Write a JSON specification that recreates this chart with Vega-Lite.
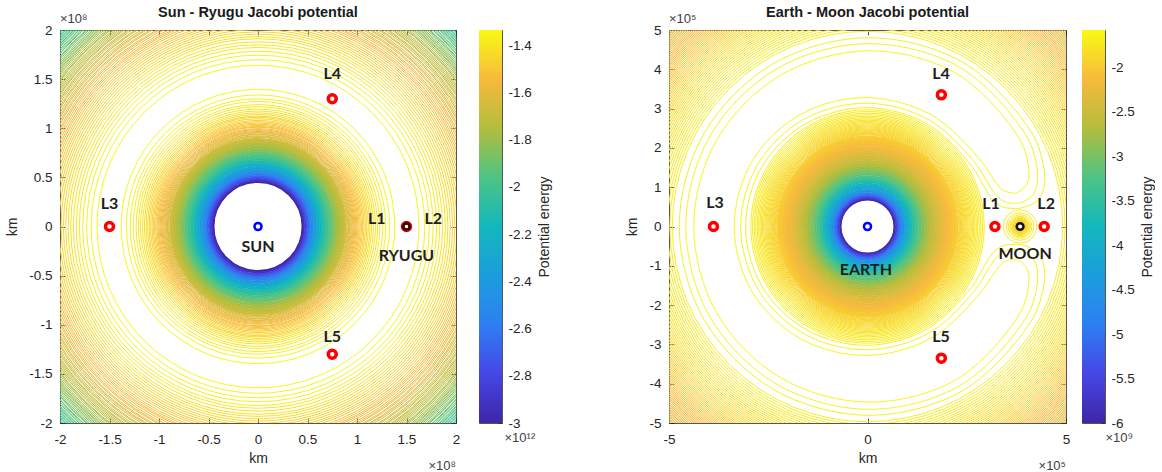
{
"$schema": "https://vega.github.io/schema/vega-lite/v6.json",
"padding": {"left": 5, "top": 4, "right": 0, "bottom": 0},
"background": "white",
"config": {
  "view": {"stroke": "#555555", "strokeWidth": 1},
  "axis": {"labelFont": "Liberation Sans", "labelFontSize": 13.5, "labelColor": "#262626", "titleFont": "Liberation Sans", "titleFontSize": 14, "titleColor": "#262626", "titleFontWeight": "normal", "grid": false, "domain": false, "tickColor": "#262626", "tickSize": -5, "tickWidth": 0.8, "labelFlush": false, "labelOverlap": false}
},
"datasets": {
  "sunSolid": [{"d":0.90,"u":-3.0},{"d":0.93,"u":-2.916},{"d":0.96,"u":-2.829},{"d":0.99,"u":-2.748},{"d":1.02,"u":-2.671},{"d":1.05,"u":-2.599},{"d":1.08,"u":-2.532},{"d":1.11,"u":-2.468},{"d":1.14,"u":-2.408},{"d":1.17,"u":-2.352},{"d":1.20,"u":-2.298},{"d":1.23,"u":-2.247},{"d":1.26,"u":-2.199},{"d":1.29,"u":-2.154},{"d":1.32,"u":-2.111},{"d":1.35,"u":-2.069},{"d":1.38,"u":-2.031},{"d":1.41,"u":-1.993},{"d":1.44,"u":-1.958},{"d":1.47,"u":-1.925},{"d":1.50,"u":-1.893},{"d":1.53,"u":-1.862},{"d":1.56,"u":-1.833},{"d":1.59,"u":-1.806},{"d":1.62,"u":-1.779},{"d":1.65,"u":-1.754},{"d":1.68,"u":-1.730},{"d":1.71,"u":-1.707},{"d":1.74,"u":-1.685},{"d":1.77,"u":-1.665}],
  "sunLines": [{"d":2.763,"u":-1.345},{"d":2.658,"u":-1.355},{"d":2.58,"u":-1.365},{"d":2.519,"u":-1.375},{"d":2.463,"u":-1.385},{"d":2.415,"u":-1.395},{"d":2.373,"u":-1.405},{"d":2.333,"u":-1.415},{"d":2.295,"u":-1.425},{"d":2.262,"u":-1.435},{"d":2.229,"u":-1.445},{"d":2.199,"u":-1.455},{"d":2.169,"u":-1.465},{"d":2.142,"u":-1.475},{"d":2.115,"u":-1.485},{"d":2.09,"u":-1.495},{"d":2.066,"u":-1.505},{"d":2.042,"u":-1.515},{"d":2.02,"u":-1.525},{"d":1.999,"u":-1.535},{"d":1.977,"u":-1.545},{"d":1.958,"u":-1.555},{"d":1.938,"u":-1.565},{"d":1.919,"u":-1.575},{"d":1.901,"u":-1.585},{"d":1.883,"u":-1.595},{"d":1.865,"u":-1.605},{"d":1.849,"u":-1.615},{"d":1.832,"u":-1.625},{"d":1.816,"u":-1.635},{"d":1.8,"u":-1.645},
    {"d":3.251,"u":-1.345},{"d":3.370,"u":-1.355},{"d":3.462,"u":-1.365},{"d":3.540,"u":-1.375},{"d":3.609,"u":-1.385},{"d":3.672,"u":-1.395},{"d":3.730,"u":-1.405},{"d":3.785,"u":-1.415},{"d":3.837,"u":-1.425},{"d":3.886,"u":-1.435},{"d":3.933,"u":-1.445},{"d":3.978,"u":-1.455},{"d":4.022,"u":-1.465},{"d":4.064,"u":-1.475},{"d":4.106,"u":-1.485},{"d":4.145,"u":-1.495},{"d":4.184,"u":-1.505},{"d":4.221,"u":-1.515},{"d":4.257,"u":-1.525},{"d":4.293,"u":-1.535},{"d":4.329,"u":-1.545},{"d":4.364,"u":-1.555},{"d":4.397,"u":-1.565},{"d":4.431,"u":-1.575},{"d":4.464,"u":-1.585},{"d":4.497,"u":-1.595},{"d":4.528,"u":-1.605},{"d":4.559,"u":-1.615},{"d":4.589,"u":-1.625},{"d":4.620,"u":-1.635},{"d":4.651,"u":-1.645},{"d":4.680,"u":-1.655},{"d":4.709,"u":-1.665},{"d":4.737,"u":-1.675},{"d":4.766,"u":-1.685},{"d":4.795,"u":-1.695},{"d":4.822,"u":-1.705},{"d":4.849,"u":-1.715},{"d":4.876,"u":-1.725},{"d":4.903,"u":-1.735},{"d":4.930,"u":-1.745},{"d":4.957,"u":-1.755},{"d":4.982,"u":-1.765},{"d":5.008,"u":-1.775},{"d":5.033,"u":-1.785},{"d":5.059,"u":-1.795},{"d":5.085,"u":-1.805},{"d":5.110,"u":-1.815},{"d":5.134,"u":-1.825},{"d":5.158,"u":-1.835},{"d":5.182,"u":-1.845},{"d":5.207,"u":-1.855},{"d":5.231,"u":-1.865},{"d":5.255,"u":-1.875},{"d":5.278,"u":-1.885},{"d":5.301,"u":-1.895},{"d":5.324,"u":-1.905},{"d":5.347,"u":-1.915},{"d":5.370,"u":-1.925},{"d":5.393,"u":-1.935},{"d":5.416,"u":-1.945},{"d":5.438,"u":-1.955},{"d":5.460,"u":-1.965},{"d":5.482,"u":-1.975},{"d":5.504,"u":-1.985},{"d":5.526,"u":-1.995},{"d":5.548,"u":-2.005},{"d":5.570,"u":-2.015},{"d":5.591,"u":-2.025},{"d":5.612,"u":-2.035},{"d":5.633,"u":-2.045},{"d":5.654,"u":-2.055}],
  "sunL": [{"x":-1.5,"y":0},{"x":0.75,"y":1.3},{"x":0.75,"y":-1.3}],
  "sunLabels": [{"t":"L4","x":0.75,"y":1.55},{"t":"L3","x":-1.5,"y":0.23},{"t":"L1","x":1.2,"y":0.08},{"t":"L2","x":1.77,"y":0.08},{"t":"RYUGU","x":1.5,"y":-0.3},{"t":"SUN","x":0,"y":-0.21},{"t":"L5","x":0.75,"y":-1.12}],
  "earthSolid": [{"d":1.361,"u":-5.98},{"d":1.384,"u":-5.884},{"d":1.461,"u":-5.577},{"d":1.538,"u":-5.301},{"d":1.614,"u":-5.052},{"d":1.691,"u":-4.826},{"d":1.768,"u":-4.619},{"d":1.845,"u":-4.430},{"d":1.922,"u":-4.257},{"d":1.999,"u":-4.097},{"d":2.076,"u":-3.950},{"d":2.153,"u":-3.813},{"d":2.230,"u":-3.686},{"d":2.306,"u":-3.567},{"d":2.383,"u":-3.457},{"d":2.460,"u":-3.354},{"d":2.537,"u":-3.258},{"d":2.614,"u":-3.167},{"d":2.691,"u":-3.082},{"d":2.768,"u":-3.002},{"d":2.845,"u":-2.926},{"d":2.921,"u":-2.855},{"d":2.998,"u":-2.788},{"d":3.075,"u":-2.724},{"d":3.152,"u":-2.664},{"d":3.229,"u":-2.607},{"d":3.306,"u":-2.553},{"d":3.383,"u":-2.502},{"d":3.460,"u":-2.454},{"d":3.536,"u":-2.407},{"d":3.613,"u":-2.363},{"d":3.690,"u":-2.322},{"d":3.767,"u":-2.282},{"d":3.844,"u":-2.244},{"d":3.921,"u":-2.208},{"d":3.998,"u":-2.174},{"d":4.075,"u":-2.141},{"d":4.152,"u":-2.110},{"d":4.228,"u":-2.080},{"d":4.305,"u":-2.051},{"d":4.382,"u":-2.024},{"d":4.459,"u":-1.998},{"d":4.536,"u":-1.974}],
  "earthLines": [{"d":5.881,"u":-1.689},{"d":5.797,"u":-1.701},{"d":5.712,"u":-1.713},{"d":5.635,"u":-1.725},{"d":5.558,"u":-1.737},{"d":5.489,"u":-1.749},{"d":5.420,"u":-1.761},{"d":5.355,"u":-1.772},{"d":5.295,"u":-1.784},{"d":5.234,"u":-1.796},{"d":5.177,"u":-1.808},{"d":5.122,"u":-1.820},{"d":5.067,"u":-1.832},{"d":5.017,"u":-1.843},{"d":4.966,"u":-1.855},{"d":4.916,"u":-1.867},{"d":4.871,"u":-1.879},{"d":4.825,"u":-1.891},{"d":4.780,"u":-1.903},{"d":4.737,"u":-1.915},{"d":4.696,"u":-1.926},{"d":4.654,"u":-1.938},{"d":4.613,"u":-1.950},
    {"d":9.832,"u":-1.689},{"d":9.958,"u":-1.701},{"d":10.080,"u":-1.713},{"d":10.195,"u":-1.725},{"d":10.308,"u":-1.737},{"d":10.416,"u":-1.749},{"d":10.521,"u":-1.761},{"d":10.623,"u":-1.772},{"d":10.722,"u":-1.784},{"d":10.817,"u":-1.796},{"d":10.909,"u":-1.808},{"d":11.002,"u":-1.820},{"d":11.095,"u":-1.832},{"d":11.184,"u":-1.843},{"d":11.269,"u":-1.855},{"d":11.354,"u":-1.867},{"d":11.439,"u":-1.879},{"d":11.524,"u":-1.891},{"d":11.603,"u":-1.903},{"d":11.683,"u":-1.915},{"d":11.761,"u":-1.926},{"d":11.840,"u":-1.938},{"d":11.919,"u":-1.950},{"d":11.993,"u":-1.962},{"d":12.066,"u":-1.974},{"d":12.139,"u":-1.986},{"d":12.213,"u":-1.998},{"d":12.287,"u":-2.009},{"d":12.357,"u":-2.021},{"d":12.426,"u":-2.033},{"d":12.496,"u":-2.045},{"d":12.565,"u":-2.057},{"d":12.634,"u":-2.069},{"d":12.702,"u":-2.080},{"d":12.768,"u":-2.092},{"d":12.833,"u":-2.104},{"d":12.899,"u":-2.116},{"d":12.964,"u":-2.128},{"d":13.030,"u":-2.140},{"d":13.094,"u":-2.152},{"d":13.156,"u":-2.164},{"d":13.218,"u":-2.176},{"d":13.280,"u":-2.187},{"d":13.342,"u":-2.199},{"d":13.404,"u":-2.211},{"d":13.466,"u":-2.223},{"d":13.526,"u":-2.235},{"d":13.585,"u":-2.247},{"d":13.644,"u":-2.258},{"d":13.702,"u":-2.270},{"d":13.762,"u":-2.282},{"d":13.821,"u":-2.294},{"d":13.878,"u":-2.306},{"d":13.935,"u":-2.318},{"d":13.992,"u":-2.330},{"d":14.048,"u":-2.341},{"d":14.105,"u":-2.353},{"d":14.161,"u":-2.365},{"d":14.218,"u":-2.377}],
  "moonRings": [{"d":0.834,"u":-1.690},{"d":0.694,"u":-1.713},{"d":0.595,"u":-1.737},{"d":0.520,"u":-1.761},{"d":0.462,"u":-1.785},{"d":0.416,"u":-1.808},{"d":0.378,"u":-1.832},{"d":0.347,"u":-1.856},{"d":0.320,"u":-1.880},{"d":0.297,"u":-1.903},{"d":0.278,"u":-1.927},{"d":0.244,"u":-1.975},{"d":0.219,"u":-2.022},{"d":0.198,"u":-2.070},{"d":0.181,"u":-2.117}],
  "horse": [
    {"lev":1,"o":1,"x":3.751,"y":0.843,"u":-1.618},{"lev":1,"o":2,"x":3.419,"y":0.916,"u":-1.618},{"lev":1,"o":3,"x":3.201,"y":1.165,"u":-1.618},{"lev":1,"o":4,"x":2.870,"y":1.657,"u":-1.618},{"lev":1,"o":5,"x":1.632,"y":2.826,"u":-1.618},{"lev":1,"o":6,"x":0,"y":3.280,"u":-1.618},{"lev":1,"o":7,"x":-1.658,"y":2.871,"u":-1.618},{"lev":1,"o":8,"x":-2.899,"y":1.674,"u":-1.618},{"lev":1,"o":9,"x":-3.359,"y":0,"u":-1.618},{"lev":1,"o":10,"x":-2.899,"y":-1.674,"u":-1.618},{"lev":1,"o":11,"x":-1.658,"y":-2.871,"u":-1.618},{"lev":1,"o":12,"x":0,"y":-3.280,"u":-1.618},{"lev":1,"o":13,"x":1.632,"y":-2.826,"u":-1.618},{"lev":1,"o":14,"x":2.870,"y":-1.657,"u":-1.618},{"lev":1,"o":15,"x":3.201,"y":-1.165,"u":-1.618},{"lev":1,"o":16,"x":3.419,"y":-0.916,"u":-1.618},{"lev":1,"o":17,"x":3.751,"y":-0.843,"u":-1.618},{"lev":1,"o":18,"x":4.022,"y":-1.078,"u":-1.618},{"lev":1,"o":19,"x":4.058,"y":-1.477,"u":-1.618},{"lev":1,"o":20,"x":3.835,"y":-2.214,"u":-1.618},{"lev":1,"o":21,"x":2.246,"y":-3.889,"u":-1.618},{"lev":1,"o":22,"x":0,"y":-4.470,"u":-1.618},{"lev":1,"o":23,"x":-2.214,"y":-3.834,"u":-1.618},{"lev":1,"o":24,"x":-3.802,"y":-2.195,"u":-1.618},{"lev":1,"o":25,"x":-4.376,"y":0,"u":-1.618},{"lev":1,"o":26,"x":-3.802,"y":2.195,"u":-1.618},{"lev":1,"o":27,"x":-2.214,"y":3.834,"u":-1.618},{"lev":1,"o":28,"x":0,"y":4.470,"u":-1.618},{"lev":1,"o":29,"x":2.246,"y":3.889,"u":-1.618},{"lev":1,"o":30,"x":3.835,"y":2.214,"u":-1.618},{"lev":1,"o":31,"x":4.058,"y":1.477,"u":-1.618},{"lev":1,"o":32,"x":4.022,"y":1.078,"u":-1.618},{"lev":1,"o":33,"x":3.751,"y":0.843,"u":-1.618},
    {"lev":2,"o":1,"x":3.799,"y":0.589,"u":-1.642},{"lev":2,"o":2,"x":3.492,"y":0.616,"u":-1.642},{"lev":2,"o":3,"x":3.308,"y":0.733,"u":-1.642},{"lev":2,"o":4,"x":3.196,"y":0.856,"u":-1.642},{"lev":2,"o":5,"x":3.032,"y":1.104,"u":-1.642},{"lev":2,"o":6,"x":2.738,"y":1.581,"u":-1.642},{"lev":2,"o":7,"x":1.562,"y":2.705,"u":-1.642},{"lev":2,"o":8,"x":0,"y":3.137,"u":-1.642},{"lev":2,"o":9,"x":-1.582,"y":2.739,"u":-1.642},{"lev":2,"o":10,"x":-2.759,"y":1.593,"u":-1.642},{"lev":2,"o":11,"x":-3.195,"y":0,"u":-1.642},{"lev":2,"o":12,"x":-2.759,"y":-1.593,"u":-1.642},{"lev":2,"o":13,"x":-1.582,"y":-2.739,"u":-1.642},{"lev":2,"o":14,"x":0,"y":-3.137,"u":-1.642},{"lev":2,"o":15,"x":1.562,"y":-2.705,"u":-1.642},{"lev":2,"o":16,"x":2.738,"y":-1.581,"u":-1.642},{"lev":2,"o":17,"x":3.032,"y":-1.104,"u":-1.642},{"lev":2,"o":18,"x":3.196,"y":-0.856,"u":-1.642},{"lev":2,"o":19,"x":3.308,"y":-0.733,"u":-1.642},{"lev":2,"o":20,"x":3.492,"y":-0.616,"u":-1.642},{"lev":2,"o":21,"x":3.799,"y":-0.589,"u":-1.642},{"lev":2,"o":22,"x":4.095,"y":-0.722,"u":-1.642},{"lev":2,"o":23,"x":4.236,"y":-0.939,"u":-1.642},{"lev":2,"o":24,"x":4.282,"y":-1.147,"u":-1.642},{"lev":2,"o":25,"x":4.262,"y":-1.551,"u":-1.642},{"lev":2,"o":26,"x":4.000,"y":-2.310,"u":-1.642},{"lev":2,"o":27,"x":2.335,"y":-4.043,"u":-1.642},{"lev":2,"o":28,"x":0,"y":-4.651,"u":-1.642},{"lev":2,"o":29,"x":-2.309,"y":-3.999,"u":-1.642},{"lev":2,"o":30,"x":-3.973,"y":-2.294,"u":-1.642},{"lev":2,"o":31,"x":-4.577,"y":0,"u":-1.642},{"lev":2,"o":32,"x":-3.973,"y":2.294,"u":-1.642},{"lev":2,"o":33,"x":-2.309,"y":3.999,"u":-1.642},{"lev":2,"o":34,"x":0,"y":4.651,"u":-1.642},{"lev":2,"o":35,"x":2.335,"y":4.043,"u":-1.642},{"lev":2,"o":36,"x":4.000,"y":2.310,"u":-1.642},{"lev":2,"o":37,"x":4.262,"y":1.551,"u":-1.642},{"lev":2,"o":38,"x":4.282,"y":1.147,"u":-1.642},{"lev":2,"o":39,"x":4.236,"y":0.939,"u":-1.642},{"lev":2,"o":40,"x":4.095,"y":0.722,"u":-1.642},{"lev":2,"o":41,"x":3.799,"y":0.589,"u":-1.642},
    {"lev":3,"o":1,"x":3.816,"y":0.459,"u":-1.666},{"lev":3,"o":2,"x":3.446,"y":0.484,"u":-1.666},{"lev":3,"o":3,"x":3.263,"y":0.575,"u":-1.666},{"lev":3,"o":4,"x":3.139,"y":0.696,"u":-1.666},{"lev":3,"o":5,"x":3.050,"y":0.817,"u":-1.666},{"lev":3,"o":6,"x":2.910,"y":1.059,"u":-1.666},{"lev":3,"o":7,"x":2.636,"y":1.522,"u":-1.666},{"lev":3,"o":8,"x":1.506,"y":2.608,"u":-1.666},{"lev":3,"o":9,"x":0,"y":3.023,"u":-1.666},{"lev":3,"o":10,"x":-1.522,"y":2.636,"u":-1.666},{"lev":3,"o":11,"x":-2.653,"y":1.532,"u":-1.666},{"lev":3,"o":12,"x":-3.069,"y":0,"u":-1.666},{"lev":3,"o":13,"x":-2.653,"y":-1.532,"u":-1.666},{"lev":3,"o":14,"x":-1.522,"y":-2.636,"u":-1.666},{"lev":3,"o":15,"x":0,"y":-3.023,"u":-1.666},{"lev":3,"o":16,"x":1.506,"y":-2.608,"u":-1.666},{"lev":3,"o":17,"x":2.636,"y":-1.522,"u":-1.666},{"lev":3,"o":18,"x":2.910,"y":-1.059,"u":-1.666},{"lev":3,"o":19,"x":3.050,"y":-0.817,"u":-1.666},{"lev":3,"o":20,"x":3.139,"y":-0.696,"u":-1.666},{"lev":3,"o":21,"x":3.263,"y":-0.575,"u":-1.666},{"lev":3,"o":22,"x":3.446,"y":-0.484,"u":-1.666},{"lev":3,"o":23,"x":3.816,"y":-0.459,"u":-1.666},{"lev":3,"o":24,"x":4.192,"y":-0.589,"u":-1.666},{"lev":3,"o":25,"x":4.362,"y":-0.769,"u":-1.666},{"lev":3,"o":26,"x":4.443,"y":-0.985,"u":-1.666},{"lev":3,"o":27,"x":4.465,"y":-1.196,"u":-1.666},{"lev":3,"o":28,"x":4.420,"y":-1.609,"u":-1.666},{"lev":3,"o":29,"x":4.135,"y":-2.388,"u":-1.666},{"lev":3,"o":30,"x":2.409,"y":-4.172,"u":-1.666},{"lev":3,"o":31,"x":0,"y":-4.802,"u":-1.666},{"lev":3,"o":32,"x":-2.387,"y":-4.134,"u":-1.666},{"lev":3,"o":33,"x":-4.113,"y":-2.375,"u":-1.666},{"lev":3,"o":34,"x":-4.740,"y":0,"u":-1.666},{"lev":3,"o":35,"x":-4.113,"y":2.375,"u":-1.666},{"lev":3,"o":36,"x":-2.387,"y":4.134,"u":-1.666},{"lev":3,"o":37,"x":0,"y":4.802,"u":-1.666},{"lev":3,"o":38,"x":2.409,"y":4.172,"u":-1.666},{"lev":3,"o":39,"x":4.135,"y":2.388,"u":-1.666},{"lev":3,"o":40,"x":4.420,"y":1.609,"u":-1.666},{"lev":3,"o":41,"x":4.465,"y":1.196,"u":-1.666},{"lev":3,"o":42,"x":4.443,"y":0.985,"u":-1.666},{"lev":3,"o":43,"x":4.362,"y":0.769,"u":-1.666},{"lev":3,"o":44,"x":4.192,"y":0.589,"u":-1.666},{"lev":3,"o":45,"x":3.816,"y":0.459,"u":-1.666}],
  "earthL": [{"x":3.21,"y":0},{"x":4.45,"y":0},{"x":-3.88,"y":0},{"x":1.86,"y":3.35},{"x":1.86,"y":-3.35}],
  "earthLabels": [{"t":"L4","x":1.85,"y":3.88},{"t":"L3","x":-3.84,"y":0.61},{"t":"L1","x":3.11,"y":0.58},{"t":"L2","x":4.5,"y":0.58},{"t":"MOON","x":3.97,"y":-0.71},{"t":"EARTH","x":-0.04,"y":-1.1},{"t":"L5","x":1.85,"y":-2.81}]
},
"spacing": 73,
"resolve": {"scale": {"x": "independent", "y": "independent", "color": "independent", "size": "independent"}},
"hconcat": [
 {
  "spacing": 17,
  "resolve": {"scale": {"x": "independent", "y": "independent", "color": "independent", "size": "independent"}},
  "hconcat": [
   {
    "width": 396, "height": 393,
    "resolve": {"axis": {"x": "independent", "y": "independent"}},
    "layer": [
     {"data": {"name": "sunSolid"},
      "mark": {"type": "point", "shape": "circle", "filled": false, "strokeWidth": 2, "opacity": 1, "clip": true},
      "encoding": {
        "x": {"datum": 0, "type": "quantitative", "scale": {"domain": [-2, 2], "nice": false, "zero": false}, "axis": {"orient": "bottom", "values": [-2,-1.5,-1,-0.5,0,0.5,1,1.5,2], "title": "km", "labelPadding": 14, "titlePadding": 6, "labelExpr": "'' + datum.value"}},
        "y": {"datum": 0, "type": "quantitative", "scale": {"domain": [-2, 2], "nice": false, "zero": false}, "axis": {"orient": "left", "values": [-2,-1.5,-1,-0.5,0,0.5,1,1.5,2], "title": "km", "labelPadding": 13, "titlePadding": 9, "labelExpr": "'' + datum.value"}},
        "size": {"field": "d", "type": "quantitative", "scale": {"type": "pow", "exponent": 2, "domain": [0, 4], "range": [0, 156816], "zero": true, "nice": false, "clamp": false}, "legend": null},
        "color": {"field": "u", "type": "quantitative", "scale": {"domain": [-3,-2.792,-2.584,-2.376,-2.168,-1.96,-1.752,-1.544,-1.336], "range": ["#3E26A8","#4646E6","#2E7FF2","#1B9DDD","#13B7BD","#4DC484","#B3BD3C","#F7BA3C","#F9FA14"], "interpolate": "rgb", "clamp": true}, "legend": null}
      }},
     {"data": {"name": "sunLines"},
      "mark": {"type": "point", "shape": "circle", "filled": false, "strokeWidth": 1, "opacity": 1, "clip": true},
      "encoding": {
        "x": {"datum": 0, "type": "quantitative", "axis": null},
        "y": {"datum": 0, "type": "quantitative", "axis": null},
        "size": {"field": "d", "type": "quantitative", "legend": null},
        "color": {"field": "u", "type": "quantitative", "legend": null}
      }},
     {"data": {"name": "sunL"},
      "mark": {"type": "point", "shape": "circle", "filled": true, "fill": "white", "stroke": "#ff0000", "strokeWidth": 3.5, "size": 64, "opacity": 1},
      "encoding": {
        "x": {"field": "x", "type": "quantitative", "axis": {"orient": "top", "labels": false, "title": null, "values": [-2,-1.5,-1,-0.5,0,0.5,1,1.5,2]}},
        "y": {"field": "y", "type": "quantitative", "axis": {"orient": "right", "labels": false, "title": null, "values": [-2,-1.5,-1,-0.5,0,0.5,1,1.5,2]}}
      }},
     {"data": {"values": [{"x": 0, "y": 0}]},
      "mark": {"type": "point", "shape": "circle", "filled": true, "fill": "white", "stroke": "#0000ff", "strokeWidth": 2.5, "size": 50, "opacity": 1},
      "encoding": {"x": {"field": "x", "type": "quantitative", "axis": null}, "y": {"field": "y", "type": "quantitative", "axis": null}}},
     {"data": {"values": [{"x": 1.5, "y": 0}]},
      "mark": {"type": "point", "shape": "circle", "filled": true, "fill": "white", "stroke": "#e00000", "strokeWidth": 4, "size": 56, "opacity": 1},
      "encoding": {"x": {"field": "x", "type": "quantitative", "axis": null}, "y": {"field": "y", "type": "quantitative", "axis": null}}},
     {"data": {"values": [{"x": 1.5, "y": 0}]},
      "mark": {"type": "point", "shape": "circle", "filled": false, "stroke": "#111111", "strokeWidth": 2.2, "size": 40, "opacity": 1},
      "encoding": {"x": {"field": "x", "type": "quantitative", "axis": null}, "y": {"field": "y", "type": "quantitative", "axis": null}}},
     {"data": {"name": "sunLabels"},
      "mark": {"type": "text", "font": "Lato", "fontSize": 16, "fontWeight": "bold", "color": "#1e1e1e", "align": "center", "baseline": "middle"},
      "encoding": {"x": {"field": "x", "type": "quantitative", "axis": null}, "y": {"field": "y", "type": "quantitative", "axis": null}, "text": {"field": "t"}}},
     {"data": {"values": [{"x": 0, "y": 2, "t": "Sun - Ryugu Jacobi potential"}]},
      "mark": {"type": "text", "font": "Liberation Sans", "fontSize": 14.5, "fontWeight": "bold", "color": "#1a1a1a", "align": "center", "baseline": "middle", "dy": -17},
      "encoding": {"x": {"field": "x", "type": "quantitative", "axis": null}, "y": {"field": "y", "type": "quantitative", "axis": null}, "text": {"field": "t"}}},
     {"data": {"values": [{"x": -2, "y": 2, "t": "×10⁸"}]},
      "mark": {"type": "text", "font": "Liberation Sans", "fontSize": 13, "color": "#404040", "align": "left", "baseline": "middle", "dy": -11},
      "encoding": {"x": {"field": "x", "type": "quantitative", "axis": null}, "y": {"field": "y", "type": "quantitative", "axis": null}, "text": {"field": "t"}}},
     {"data": {"values": [{"x": 2, "y": -2, "t": "×10⁸"}]},
      "mark": {"type": "text", "font": "Liberation Sans", "fontSize": 13, "color": "#404040", "align": "right", "baseline": "middle", "dy": 43},
      "encoding": {"x": {"field": "x", "type": "quantitative", "axis": null}, "y": {"field": "y", "type": "quantitative", "axis": null}, "text": {"field": "t"}}}
    ]
   },
   {
    "width": 23, "height": 393,
    "data": {"values": [{"lo": -3, "hi": -1.336}]},
    "layer": [
     {"mark": {"type": "rect", "fill": {"gradient": "linear", "x1": 0, "y1": 1, "x2": 0, "y2": 0, "stops": [{"offset": 0, "color": "#3E26A8"}, {"offset": 0.125, "color": "#4646E6"}, {"offset": 0.25, "color": "#2E7FF2"}, {"offset": 0.375, "color": "#1B9DDD"}, {"offset": 0.5, "color": "#13B7BD"}, {"offset": 0.625, "color": "#4DC484"}, {"offset": 0.75, "color": "#B3BD3C"}, {"offset": 0.875, "color": "#F7BA3C"}, {"offset": 1, "color": "#F9FA14"}]}},
      "encoding": {
        "y": {"field": "lo", "type": "quantitative", "scale": {"domain": [-3, -1.336], "nice": false, "zero": false}, "axis": {"orient": "right", "values": [-3,-2.8,-2.6,-2.4,-2.2,-2,-1.8,-1.6,-1.4], "title": "Potential energy", "titleAngle": 270, "titleBaseline": "top", "titlePadding": 6, "labelPadding": 10, "tickSize": -4, "labelExpr": "'' + datum.value"}},
        "y2": {"field": "hi"}
      }},
     {"mark": {"type": "text", "text": "×10¹²", "font": "Liberation Sans", "fontSize": 13, "color": "#404040", "align": "left", "baseline": "middle", "dx": 14, "dy": 15},
      "encoding": {"y": {"datum": -3, "type": "quantitative"}}}
    ]
   }
  ]
 },
 {
  "spacing": 10,
  "resolve": {"scale": {"x": "independent", "y": "independent", "color": "independent", "size": "independent"}},
  "hconcat": [
   {
    "width": 397, "height": 393,
    "resolve": {"axis": {"x": "independent", "y": "independent"}},
    "layer": [
     {"data": {"name": "earthSolid"},
      "mark": {"type": "point", "shape": "circle", "filled": false, "strokeWidth": 2, "opacity": 1, "clip": true},
      "encoding": {
        "x": {"datum": 0, "type": "quantitative", "scale": {"domain": [-5, 5], "nice": false, "zero": false}, "axis": {"orient": "bottom", "values": [-5, 0, 5], "title": "km", "labelPadding": 14, "titlePadding": 6, "labelExpr": "'' + datum.value"}},
        "y": {"datum": 0, "type": "quantitative", "scale": {"domain": [-5, 5], "nice": false, "zero": false}, "axis": {"orient": "left", "values": [-5,-4,-3,-2,-1,0,1,2,3,4,5], "title": "km", "labelPadding": 13, "titlePadding": 9, "labelExpr": "'' + datum.value"}},
        "size": {"field": "d", "type": "quantitative", "scale": {"type": "pow", "exponent": 2, "domain": [0, 10], "range": [0, 157609], "zero": true, "nice": false, "clamp": false}, "legend": null},
        "color": {"field": "u", "type": "quantitative", "scale": {"domain": [-6,-5.448,-4.896,-4.344,-3.792,-3.24,-2.688,-2.136,-1.584], "range": ["#3E26A8","#4646E6","#2E7FF2","#1B9DDD","#13B7BD","#4DC484","#B3BD3C","#F7BA3C","#F9FA14"], "interpolate": "rgb", "clamp": true}, "legend": null}
      }},
     {"data": {"name": "earthLines"},
      "mark": {"type": "point", "shape": "circle", "filled": false, "strokeWidth": 1, "opacity": 1, "clip": true},
      "encoding": {
        "x": {"datum": 0, "type": "quantitative", "axis": null},
        "y": {"datum": 0, "type": "quantitative", "axis": null},
        "size": {"field": "d", "type": "quantitative", "legend": null},
        "color": {"field": "u", "type": "quantitative", "legend": null}
      }},
     {"data": {"name": "moonRings"},
      "mark": {"type": "point", "shape": "circle", "filled": false, "strokeWidth": 1, "opacity": 1, "clip": true},
      "encoding": {
        "x": {"datum": 3.844, "type": "quantitative", "axis": null},
        "y": {"datum": 0, "type": "quantitative", "axis": null},
        "size": {"field": "d", "type": "quantitative", "legend": null},
        "color": {"field": "u", "type": "quantitative", "legend": null}
      }},
     {"data": {"name": "horse"},
      "mark": {"type": "line", "strokeWidth": 1, "interpolate": "catmull-rom", "clip": true},
      "encoding": {
        "x": {"field": "x", "type": "quantitative", "axis": null},
        "y": {"field": "y", "type": "quantitative", "axis": null},
        "detail": {"field": "lev"},
        "order": {"field": "o", "type": "quantitative"},
        "color": {"field": "u", "type": "quantitative", "legend": null}
      }},
     {"data": {"name": "earthL"},
      "mark": {"type": "point", "shape": "circle", "filled": true, "fill": "white", "stroke": "#ff0000", "strokeWidth": 3.5, "size": 64, "opacity": 1},
      "encoding": {
        "x": {"field": "x", "type": "quantitative", "axis": {"orient": "top", "labels": false, "title": null, "values": [-5, 0, 5]}},
        "y": {"field": "y", "type": "quantitative", "axis": {"orient": "right", "labels": false, "title": null, "values": [-5,-4,-3,-2,-1,0,1,2,3,4,5]}}
      }},
     {"data": {"values": [{"x": 0, "y": 0}]},
      "mark": {"type": "point", "shape": "circle", "filled": true, "fill": "white", "stroke": "#0000ff", "strokeWidth": 2.5, "size": 50, "opacity": 1},
      "encoding": {"x": {"field": "x", "type": "quantitative", "axis": null}, "y": {"field": "y", "type": "quantitative", "axis": null}}},
     {"data": {"values": [{"x": 3.844, "y": 0}]},
      "mark": {"type": "point", "shape": "circle", "filled": false, "stroke": "#111111", "strokeWidth": 2.5, "size": 45, "opacity": 1},
      "encoding": {"x": {"field": "x", "type": "quantitative", "axis": null}, "y": {"field": "y", "type": "quantitative", "axis": null}}},
     {"data": {"name": "earthLabels"},
      "mark": {"type": "text", "font": "Lato", "fontSize": 16, "fontWeight": "bold", "color": "#1e1e1e", "align": "center", "baseline": "middle"},
      "encoding": {"x": {"field": "x", "type": "quantitative", "axis": null}, "y": {"field": "y", "type": "quantitative", "axis": null}, "text": {"field": "t"}}},
     {"data": {"values": [{"x": 0, "y": 5, "t": "Earth - Moon Jacobi potential"}]},
      "mark": {"type": "text", "font": "Liberation Sans", "fontSize": 14.5, "fontWeight": "bold", "color": "#1a1a1a", "align": "center", "baseline": "middle", "dy": -17},
      "encoding": {"x": {"field": "x", "type": "quantitative", "axis": null}, "y": {"field": "y", "type": "quantitative", "axis": null}, "text": {"field": "t"}}},
     {"data": {"values": [{"x": -5, "y": 5, "t": "×10⁵"}]},
      "mark": {"type": "text", "font": "Liberation Sans", "fontSize": 13, "color": "#404040", "align": "left", "baseline": "middle", "dy": -11},
      "encoding": {"x": {"field": "x", "type": "quantitative", "axis": null}, "y": {"field": "y", "type": "quantitative", "axis": null}, "text": {"field": "t"}}},
     {"data": {"values": [{"x": 5, "y": -5, "t": "×10⁵"}]},
      "mark": {"type": "text", "font": "Liberation Sans", "fontSize": 13, "color": "#404040", "align": "right", "baseline": "middle", "dy": 43},
      "encoding": {"x": {"field": "x", "type": "quantitative", "axis": null}, "y": {"field": "y", "type": "quantitative", "axis": null}, "text": {"field": "t"}}}
    ]
   },
   {
    "width": 23, "height": 393,
    "data": {"values": [{"lo": -6, "hi": -1.584}]},
    "layer": [
     {"mark": {"type": "rect", "fill": {"gradient": "linear", "x1": 0, "y1": 1, "x2": 0, "y2": 0, "stops": [{"offset": 0, "color": "#3E26A8"}, {"offset": 0.125, "color": "#4646E6"}, {"offset": 0.25, "color": "#2E7FF2"}, {"offset": 0.375, "color": "#1B9DDD"}, {"offset": 0.5, "color": "#13B7BD"}, {"offset": 0.625, "color": "#4DC484"}, {"offset": 0.75, "color": "#B3BD3C"}, {"offset": 0.875, "color": "#F7BA3C"}, {"offset": 1, "color": "#F9FA14"}]}},
      "encoding": {
        "y": {"field": "lo", "type": "quantitative", "scale": {"domain": [-6, -1.584], "nice": false, "zero": false}, "axis": {"orient": "right", "values": [-6,-5.5,-5,-4.5,-4,-3.5,-3,-2.5,-2], "title": "Potential energy", "titleAngle": 270, "titleBaseline": "top", "titlePadding": 6, "labelPadding": 10, "tickSize": -4, "labelExpr": "'' + datum.value"}},
        "y2": {"field": "hi"}
      }},
     {"mark": {"type": "text", "text": "×10⁹", "font": "Liberation Sans", "fontSize": 13, "color": "#404040", "align": "left", "baseline": "middle", "dx": 12, "dy": 15},
      "encoding": {"y": {"datum": -6, "type": "quantitative"}}}
    ]
   }
  ]
 }
]
}
